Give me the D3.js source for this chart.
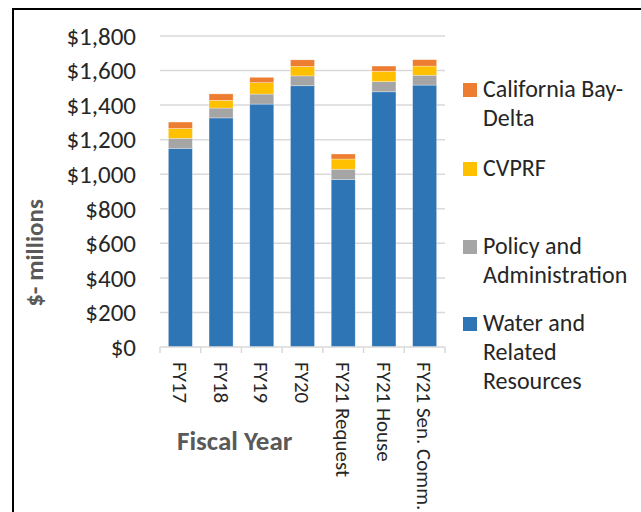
<!DOCTYPE html>
<html>
<head>
<meta charset="utf-8">
<script src="https://cdn.jsdelivr.net/npm/d3@7"></script>
<style>
  body { margin: 0; background: #fff; }
  text { font-family: Calibri, Carlito, Lato, sans-serif; }
</style>
</head>
<body>
<div id="chart"></div>
<script>
// ---------------------------//
//       DATA                 //
// ---------------------------//
var years = ["FY17", "FY18", "FY19", "FY20", "FY21 Request", "FY21 House", "FY21 Sen. Comm."];
var waterRelated = [1150, 1326, 1406, 1512, 970, 1477, 1516];
var policyAdmin = [58, 57, 58, 57, 59, 59, 57];
var cvprf = [57, 45, 66, 55, 59, 60, 53];
var bayDelta = [37, 37, 31, 38, 29, 30, 37];
var yTicks = [0, 200, 400, 600, 800, 1000, 1200, 1400, 1600, 1800];

var seriesNames = ["Water and Related Resources", "Policy and Administration", "CVPRF", "California Bay-Delta"];
var seriesKeys = ["water", "policy", "cvprf", "bay"];
var seriesColors = ["#2e75b6", "#a5a5a5", "#ffc000", "#ed7d31"];

var rows = years.map(function(d, i) {
    return { year: d, water: waterRelated[i], policy: policyAdmin[i], cvprf: cvprf[i], bay: bayDelta[i] };
});

var W = 641, H = 512;

var svg = d3.select("#chart")
    .append("svg")
    .attr("width", W)
    .attr("height", H);

// outer frame (cut by the picture on right and bottom)
svg.append("rect")
    .attr("x", 13).attr("y", 9)
    .attr("width", W).attr("height", H)
    .attr("fill", "none")
    .attr("stroke", "#000")
    .attr("stroke-width", 2);

// ---------------------------//
//       AXIS  AND SCALE      //
// ---------------------------//
var x = d3.scaleBand()
    .domain(years)
    .range([160, 445])
    .paddingInner(0.41)
    .paddingOuter(0.205);

var y = d3.scaleLinear()
    .domain([0, 1800])
    .range([347, 36]);

var color = d3.scaleOrdinal().domain(seriesKeys).range(seriesColors);

// gridlines
svg.append("g")
    .selectAll("line")
    .data(yTicks.slice(1))
    .enter()
    .append("line")
    .attr("x1", 160).attr("x2", 445)
    .attr("y1", function(d) { return y(d); })
    .attr("y2", function(d) { return y(d); })
    .attr("stroke", "#d9d9d9")
    .attr("stroke-width", 1.5);

// y labels
svg.append("g")
    .selectAll("text")
    .data(yTicks)
    .enter()
    .append("text")
    .attr("x", 136)
    .attr("y", function(d) { return y(d); })
    .attr("dy", "0.35em")
    .attr("text-anchor", "end")
    .style("font-size", "25px")
    .style("fill", "#262626")
    .text(function(d) { return "$" + d3.format(",")(d); });

// y title
svg.append("text")
    .attr("transform", "translate(34,253) rotate(-90)")
    .attr("text-anchor", "middle")
    .attr("dy", "0.35em")
    .style("font-size", "25px")
    .style("font-weight", "bold")
    .style("fill", "#595959")
    .text("$- millions");

// ---------------------------//
//       BARS                 //
// ---------------------------//
var stacked = d3.stack().keys(seriesKeys)(rows);

svg.append("g")
    .selectAll("g")
    .data(stacked)
    .enter()
    .append("g")
    .attr("fill", function(d) { return color(d.key); })
    .selectAll("rect")
    .data(function(d) { return d; })
    .enter()
    .append("rect")
    .attr("x", function(d) { return x(d.data.year); })
    .attr("y", function(d) { return y(d[1]); })
    .attr("height", function(d) { return y(d[0]) - y(d[1]); })
    .attr("width", x.bandwidth())
    .attr("stroke", "#fff")
    .attr("stroke-opacity", 0.5)
    .attr("stroke-width", 0.6);

// x axis line + ticks on category boundaries
var gap = (x.step() - x.bandwidth()) / 2;
var bounds = years.map(function(d) { return x(d) - gap; }).concat([x(years[years.length - 1]) + x.bandwidth() + gap]);

svg.append("line")
    .attr("x1", 160).attr("x2", 445)
    .attr("y1", y(0)).attr("y2", y(0))
    .attr("stroke", "#d9d9d9")
    .attr("stroke-width", 1.5);

svg.append("g")
    .selectAll("line")
    .data(bounds)
    .enter()
    .append("line")
    .attr("x1", function(d) { return d; })
    .attr("x2", function(d) { return d; })
    .attr("y1", y(0)).attr("y2", y(0) + 6)
    .attr("stroke", "#d9d9d9")
    .attr("stroke-width", 1.5);

// x labels, rotated
svg.append("g")
    .selectAll("text")
    .data(years)
    .enter()
    .append("text")
    .attr("transform", function(d) { return "translate(" + (x(d) + x.bandwidth() / 2) + ",362) rotate(90)"; })
    .attr("dy", "0.35em")
    .style("font-size", "21px")
    .style("fill", "#262626")
    .text(function(d) { return d; });

// x title
svg.append("text")
    .attr("x", 177)
    .attr("y", 450)
    .style("font-size", "27px")
    .style("font-weight", "bold")
    .style("fill", "#595959")
    .text("Fiscal Year");

// ---------------------------//
//       LEGEND               //
// ---------------------------//
var legendItems = [
    { key: "bay", lines: ["California Bay-", "Delta"], top: 83 },
    { key: "cvprf", lines: ["CVPRF"], top: 162 },
    { key: "policy", lines: ["Policy and", "Administration"], top: 240 },
    { key: "water", lines: ["Water and", "Related", "Resources"], top: 317 }
];

var legend = svg.append("g")
    .selectAll("g")
    .data(legendItems)
    .enter()
    .append("g");

legend.append("rect")
    .attr("x", 463)
    .attr("y", function(d) { return d.top; })
    .attr("width", 14).attr("height", 14)
    .attr("fill", function(d) { return color(d.key); });

legend.append("text")
    .attr("x", 483)
    .attr("y", function(d) { return d.top + 14; })
    .style("font-size", "24px")
    .style("fill", "#262626")
    .selectAll("tspan")
    .data(function(d) { return d.lines; })
    .enter()
    .append("tspan")
    .attr("x", 483)
    .attr("dy", function(d, i) { return i === 0 ? 0 : 29; })
    .text(function(d) { return d; });
</script>
</body>
</html>
